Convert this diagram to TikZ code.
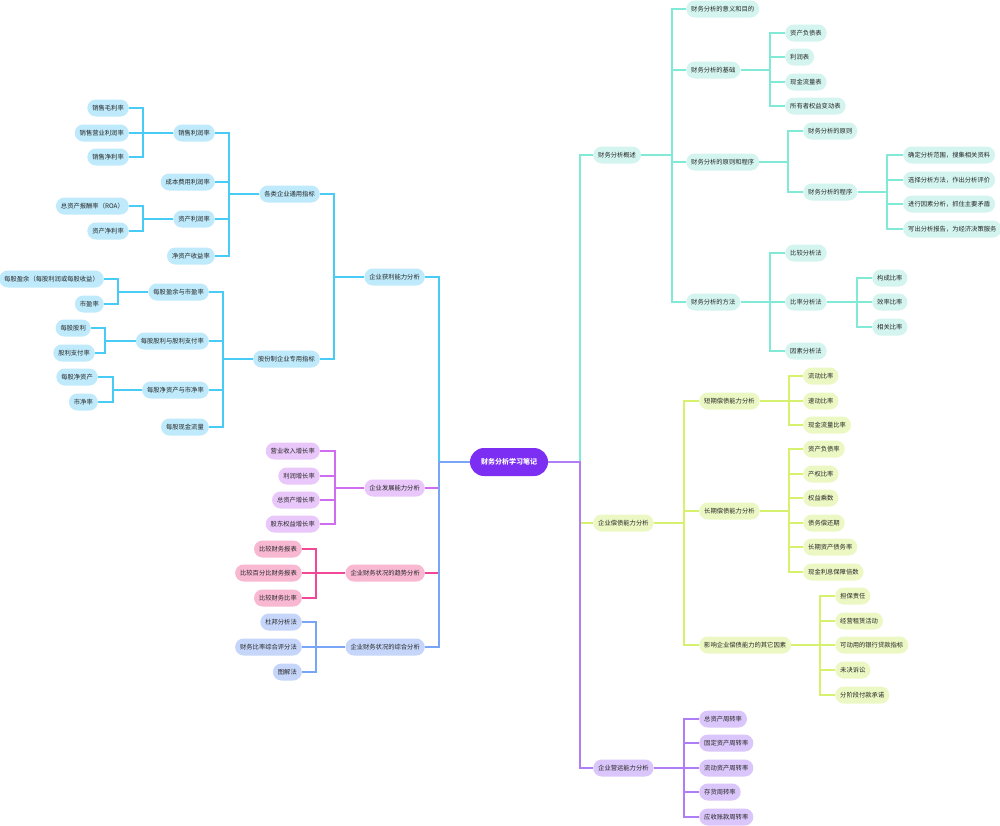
\documentclass[tikz,border=0pt]{standalone}
\usepackage{fontspec}
\setmainfont{Noto Sans CJK SC}
\definecolor{tealF}{RGB}{212,245,239}
\definecolor{tealL}{RGB}{128,234,214}
\definecolor{grnF}{RGB}{236,248,196}
\definecolor{grnL}{RGB}{214,241,110}
\definecolor{purF}{RGB}{218,198,250}
\definecolor{purL}{RGB}{175,125,245}
\definecolor{rootF}{RGB}{124,46,242}
\definecolor{bluF}{RGB}{190,234,251}
\definecolor{bluL}{RGB}{72,204,245}
\definecolor{vioF}{RGB}{233,199,250}
\definecolor{vioL}{RGB}{208,108,240}
\definecolor{pnkF}{RGB}{248,184,210}
\definecolor{pnkL}{RGB}{240,72,150}
\definecolor{perF}{RGB}{198,214,250}
\definecolor{perL}{RGB}{120,165,245}
\newcommand\linkR[4]{\draw[#1] (#2.east) -- (#2.east -| #3) |- (#4.west);}
\newcommand\linkL[4]{\draw[#1] (#2.west) -- (#2.west -| #3) |- (#4.east);}
\tikzset{
  nd/.style={rounded corners=8.5pt, minimum height=17pt, inner xsep=5pt, inner ysep=0pt,
    font=\fontsize{6.3}{7}\selectfont, text=black!85},
  R/.style={nd, anchor=west},
  L/.style={nd, anchor=east},
  tN/.style={fill=tealF}, gN/.style={fill=grnF}, pN/.style={fill=purF},
  bN/.style={fill=bluF}, vN/.style={fill=vioF}, kN/.style={fill=pnkF}, eN/.style={fill=perF},
  ln/.style={line width=1.1pt},
  tC/.style={ln, draw=tealL}, gC/.style={ln, draw=grnL}, pC/.style={ln, draw=purL},
  bC/.style={ln, draw=bluL}, vC/.style={ln, draw=vioL}, kC/.style={ln, draw=pnkL}, eC/.style={ln, draw=perL},
  rootnode/.style={fill=rootF, text=white, rounded corners=14pt, minimum height=28pt,
    minimum width=78pt, inner xsep=8pt, font=\fontsize{7}{8}\selectfont\bfseries},
}
\begin{document}
\begin{tikzpicture}[x=1pt, y=-1pt]
\useasboundingbox[fill=white] (0,0) rectangle (1000,825);
% trunk coordinates
\coordinate (tR) at (580,0);
\coordinate (tLft) at (439,0);
\coordinate (tA) at (672,0);
\coordinate (tA2) at (770,0);
\coordinate (tA3) at (788,0);
\coordinate (tA32) at (887,0);
\coordinate (tA4) at (770,0);
\coordinate (tA42) at (857,0);
\coordinate (tB) at (684,0);
\coordinate (tB1) at (789,0);
\coordinate (tB3) at (820,0);
\coordinate (tC) at (684,0);
\coordinate (tD) at (334,0);
\coordinate (tD1) at (229,0);
\coordinate (tD11) at (143,0);
\coordinate (tD2) at (223,0);
\coordinate (tD21) at (118,0);
\coordinate (tD22) at (105,0);
\coordinate (tD23) at (113,0);
\coordinate (tE) at (335,0);
\coordinate (tF) at (316,0);

% root
\node[rootnode] (root) at (509,462) {财务分析学习笔记};

% ---------- right side ----------
\node[R,tN] (A) at (593,155) {财务分析概述};
\node[R,tN] (A1) at (686,9) {财务分析的意义和目的};
\node[R,tN] (A2) at (686,70) {财务分析的基础};
\node[R,tN] (A21) at (785,33) {资产负债表};
\node[R,tN] (A22) at (785,57) {利润表};
\node[R,tN] (A23) at (785,82) {现金流量表};
\node[R,tN] (A24) at (785,106) {所有者权益变动表};
\node[R,tN] (A3) at (686,162) {财务分析的原则和程序};
\node[R,tN] (A31) at (803,131) {财务分析的原则};
\node[R,tN] (A32) at (803,192) {财务分析的程序};
\node[R,tN] (A321) at (903,155) {确定分析范围，搜集相关资料};
\node[R,tN] (A322) at (903,180) {选择分析方法，作出分析评价};
\node[R,tN] (A323) at (903,204) {进行因素分析，抓住主要矛盾};
\node[R,tN] (A324) at (903,229) {写出分析报告，为经济决策服务};
\node[R,tN] (A4) at (686,302) {财务分析的方法};
\node[R,tN] (A41) at (785,253) {比较分析法};
\node[R,tN] (A42) at (785,302) {比率分析法};
\node[R,tN] (A43) at (785,351) {因素分析法};
\node[R,tN] (A421) at (872,278) {构成比率};
\node[R,tN] (A422) at (872,302) {效率比率};
\node[R,tN] (A423) at (872,327) {相关比率};

\node[R,gN] (B) at (593,523) {企业偿债能力分析};
\node[R,gN] (B1) at (699,401) {短期偿债能力分析};
\node[R,gN] (B11) at (803,376) {流动比率};
\node[R,gN] (B12) at (803,401) {速动比率};
\node[R,gN] (B13) at (803,425) {现金流量比率};
\node[R,gN] (B2) at (699,511) {长期偿债能力分析};
\node[R,gN] (B21) at (803,449) {资产负债率};
\node[R,gN] (B22) at (803,474) {产权比率};
\node[R,gN] (B23) at (803,498) {权益乘数};
\node[R,gN] (B24) at (803,523) {债务偿还期};
\node[R,gN] (B25) at (803,547) {长期资产债务率};
\node[R,gN] (B26) at (803,572) {现金利息保障倍数};
\node[R,gN] (B3) at (699,645) {影响企业偿债能力的其它因素};
\node[R,gN] (B31) at (835,596) {担保责任};
\node[R,gN] (B32) at (835,621) {经营租赁活动};
\node[R,gN] (B33) at (835,645) {可动用的银行贷款指标};
\node[R,gN] (B34) at (835,670) {未决诉讼};
\node[R,gN] (B35) at (835,695) {分阶段付款承诺};

\node[R,pN] (C) at (593,768) {企业营运能力分析};
\node[R,pN] (C1) at (699,719) {总资产周转率};
\node[R,pN] (C2) at (699,743) {固定资产周转率};
\node[R,pN] (C3) at (699,768) {流动资产周转率};
\node[R,pN] (C4) at (699,792) {存货周转率};
\node[R,pN] (C5) at (699,817) {应收账款周转率};

% ---------- left side ----------
\node[L,bN] (D) at (425,277) {企业获利能力分析};
\node[L,bN] (D1) at (320,194) {各类企业通用指标};
\node[L,bN] (D11) at (215,133) {销售利润率};
\node[L,bN] (D111) at (129,108) {销售毛利率};
\node[L,bN] (D112) at (129,133) {销售营业利润率};
\node[L,bN] (D113) at (129,157) {销售净利率};
\node[L,bN] (D12) at (215,182) {成本费用利润率};
\node[L,bN] (D13) at (215,219) {资产利润率};
\node[L,bN] (D131) at (129,206) {总资产报酬率（ROA）};
\node[L,bN] (D132) at (129,231) {资产净利率};
\node[L,bN] (D14) at (215,256) {净资产收益率};
\node[L,bN] (D2) at (320,359) {股份制企业专用指标};
\node[L,bN] (D21) at (209,292) {每股盈余与市盈率};
\node[L,bN] (D211) at (104,279) {每股盈余（每股利润或每股收益）};
\node[L,bN] (D212) at (104,304) {市盈率};
\node[L,bN] (D22) at (209,341) {每股股利与股利支付率};
\node[L,bN] (D221) at (91,328) {每股股利};
\node[L,bN] (D222) at (95,353) {股利支付率};
\node[L,bN] (D23) at (209,390) {每股净资产与市净率};
\node[L,bN] (D231) at (98,377) {每股净资产};
\node[L,bN] (D232) at (98,402) {市净率};
\node[L,bN] (D24) at (209,427) {每股现金流量};

\node[L,vN] (E) at (425,488) {企业发展能力分析};
\node[L,vN] (E1) at (320,451) {营业收入增长率};
\node[L,vN] (E2) at (320,476) {利润增长率};
\node[L,vN] (E3) at (320,500) {总资产增长率};
\node[L,vN] (E4) at (320,524) {股东权益增长率};

\node[L,kN] (F) at (425,573) {企业财务状况的趋势分析};
\node[L,kN] (F1) at (302,549) {比较财务报表};
\node[L,kN] (F2) at (302,573) {比较百分比财务报表};
\node[L,kN] (F3) at (302,598) {比较财务比率};

\node[L,eN] (G) at (425,647) {企业财务状况的综合分析};
\node[L,eN] (G1) at (302,622) {杜邦分析法};
\node[L,eN] (G2) at (302,647) {财务比率综合评分法};
\node[L,eN] (G3) at (302,672) {图解法};

% ---------- connectors ----------
% right: root -> level 1
\linkR{tC}{root}{tR}{A}
\linkR{gC}{root}{tR}{B}
\linkR{pC}{root}{tR}{C}
% A subtree
\foreach \c in {A1,A2,A3,A4} {\linkR{tC}{A}{tA}{\c}}
\foreach \c in {A21,A22,A23,A24} {\linkR{tC}{A2}{tA2}{\c}}
\foreach \c in {A31,A32} {\linkR{tC}{A3}{tA3}{\c}}
\foreach \c in {A321,A322,A323,A324} {\linkR{tC}{A32}{tA32}{\c}}
\foreach \c in {A41,A42,A43} {\linkR{tC}{A4}{tA4}{\c}}
\foreach \c in {A421,A422,A423} {\linkR{tC}{A42}{tA42}{\c}}
% B subtree
\foreach \c in {B1,B2,B3} {\linkR{gC}{B}{tB}{\c}}
\foreach \c in {B11,B12,B13} {\linkR{gC}{B1}{tB1}{\c}}
\foreach \c in {B21,B22,B23,B24,B25,B26} {\linkR{gC}{B2}{tB1}{\c}}
\foreach \c in {B31,B32,B33,B34,B35} {\linkR{gC}{B3}{tB3}{\c}}
% C subtree
\foreach \c in {C1,C2,C3,C4,C5} {\linkR{pC}{C}{tC}{\c}}
% left: root -> level 1
\linkL{bC}{root}{tLft}{D}
\linkL{vC}{root}{tLft}{E}
\linkL{kC}{root}{tLft}{F}
\linkL{eC}{root}{tLft}{G}
% D subtree
\foreach \c in {D1,D2} {\linkL{bC}{D}{tD}{\c}}
\foreach \c in {D11,D12,D13,D14} {\linkL{bC}{D1}{tD1}{\c}}
\foreach \c in {D111,D112,D113} {\linkL{bC}{D11}{tD11}{\c}}
\foreach \c in {D131,D132} {\linkL{bC}{D13}{tD11}{\c}}
\foreach \c in {D21,D22,D23,D24} {\linkL{bC}{D2}{tD2}{\c}}
\foreach \c in {D211,D212} {\linkL{bC}{D21}{tD21}{\c}}
\foreach \c in {D221,D222} {\linkL{bC}{D22}{tD22}{\c}}
\foreach \c in {D231,D232} {\linkL{bC}{D23}{tD23}{\c}}
% E, F, G subtrees
\foreach \c in {E1,E2,E3,E4} {\linkL{vC}{E}{tE}{\c}}
\foreach \c in {F1,F2,F3} {\linkL{kC}{F}{tF}{\c}}
\foreach \c in {G1,G2,G3} {\linkL{eC}{G}{tF}{\c}}
\end{tikzpicture}
\end{document}
